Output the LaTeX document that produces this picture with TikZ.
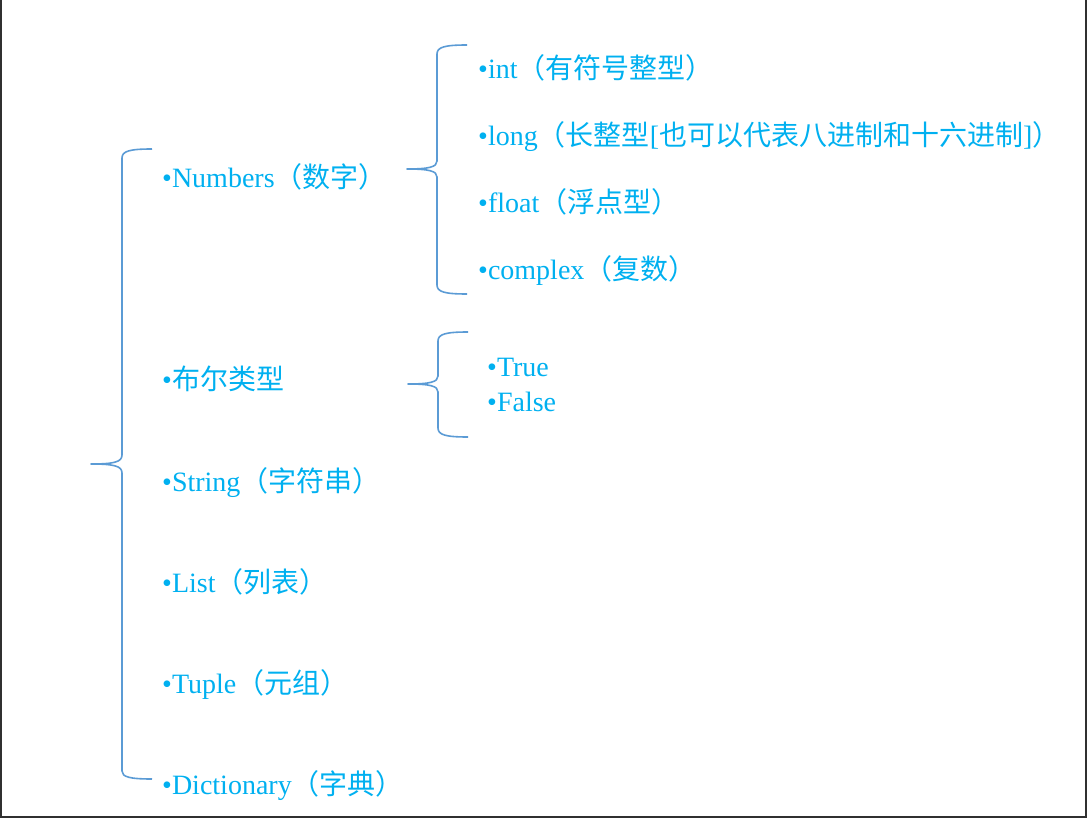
\documentclass[tikz,border=0pt]{standalone}
\usepackage{fontspec}
\setmainfont{Liberation Serif}
\newfontfamily\cjk{Noto Sans CJK SC}
\definecolor{txtblue}{HTML}{00B0F0}
\definecolor{braceblue}{HTML}{5B9BD5}
\definecolor{frame}{HTML}{303030}
\begin{document}
\begin{tikzpicture}[x=1pt,y=-1pt,
  item/.style={anchor=base west,inner sep=0pt,text=txtblue,font=\fontsize{28}{33}\selectfont},
  bracepath/.style={draw=braceblue,line width=1.6pt,line join=round},
  framepath/.style={draw=frame,line width=2pt}]
\useasboundingbox (0,0) rectangle (1087,818);
% frame
\draw[framepath] (1,0) -- (1,817) -- (1086,817) -- (1086,0);
% main brace
\coordinate (b1t) at (152,149);
\coordinate (b1p) at (91,464);
\coordinate (b1b) at (152,779);
\draw[bracepath] (b1t) .. controls (130,149) and (122,151) .. (122,158) -- (122,455)
  .. controls (122,462) and (114,464) .. (b1p) .. controls (114,464) and (122,466) .. (122,473)
  -- (122,771) .. controls (122,777) and (130,779) .. (b1b);
% numbers brace
\coordinate (b2t) at (467,45);
\coordinate (b2p) at (407,169);
\coordinate (b2b) at (467,294);
\draw[bracepath] (b2t) .. controls (445,45) and (437,47) .. (437,54) -- (437,161)
  .. controls (437,167) and (429,169) .. (b2p) .. controls (429,169) and (437,171) .. (437,177)
  -- (437,285) .. controls (437,292) and (445,294) .. (b2b);
% bool brace
\coordinate (b3t) at (468,332);
\coordinate (b3p) at (408,384);
\coordinate (b3b) at (468,437);
\draw[bracepath] (b3t) .. controls (446,332) and (438,334) .. (438,341) -- (438,376)
  .. controls (438,382) and (430,384) .. (b3p) .. controls (430,384) and (438,386) .. (438,392)
  -- (438,428) .. controls (438,435) and (446,437) .. (b3b);
% main items
\node[item] (num) at (162,188) {•Numbers{\cjk（数字）}};
\node[item] (bool) at (162,389) {•{\cjk 布尔类型}};
\node[item] (str) at (162,491) {•String{\cjk（字符串）}};
\node[item] (lst) at (162,592) {•List{\cjk（列表）}};
\node[item] (tup) at (162,693) {•Tuple{\cjk（元组）}};
\node[item] (dict) at (162,794) {•Dictionary{\cjk（字典）}};
% number sub-items
\node[item] (int) at (478,79) {•int{\cjk（有符号整型）}};
\node[item] (long) at (478,146) {•long{\cjk（长整型}[{\cjk 也可以代表八进制和十六进制}]{\cjk ）}};
\node[item] (flt) at (478,213) {•float{\cjk（浮点型）}};
\node[item] (cpx) at (478,280) {•complex{\cjk（复数）}};
% bool sub-items
\node[item] (tru) at (487,376) {•True};
\node[item] (fls) at (487,411) {•False};
\end{tikzpicture}
\end{document}
